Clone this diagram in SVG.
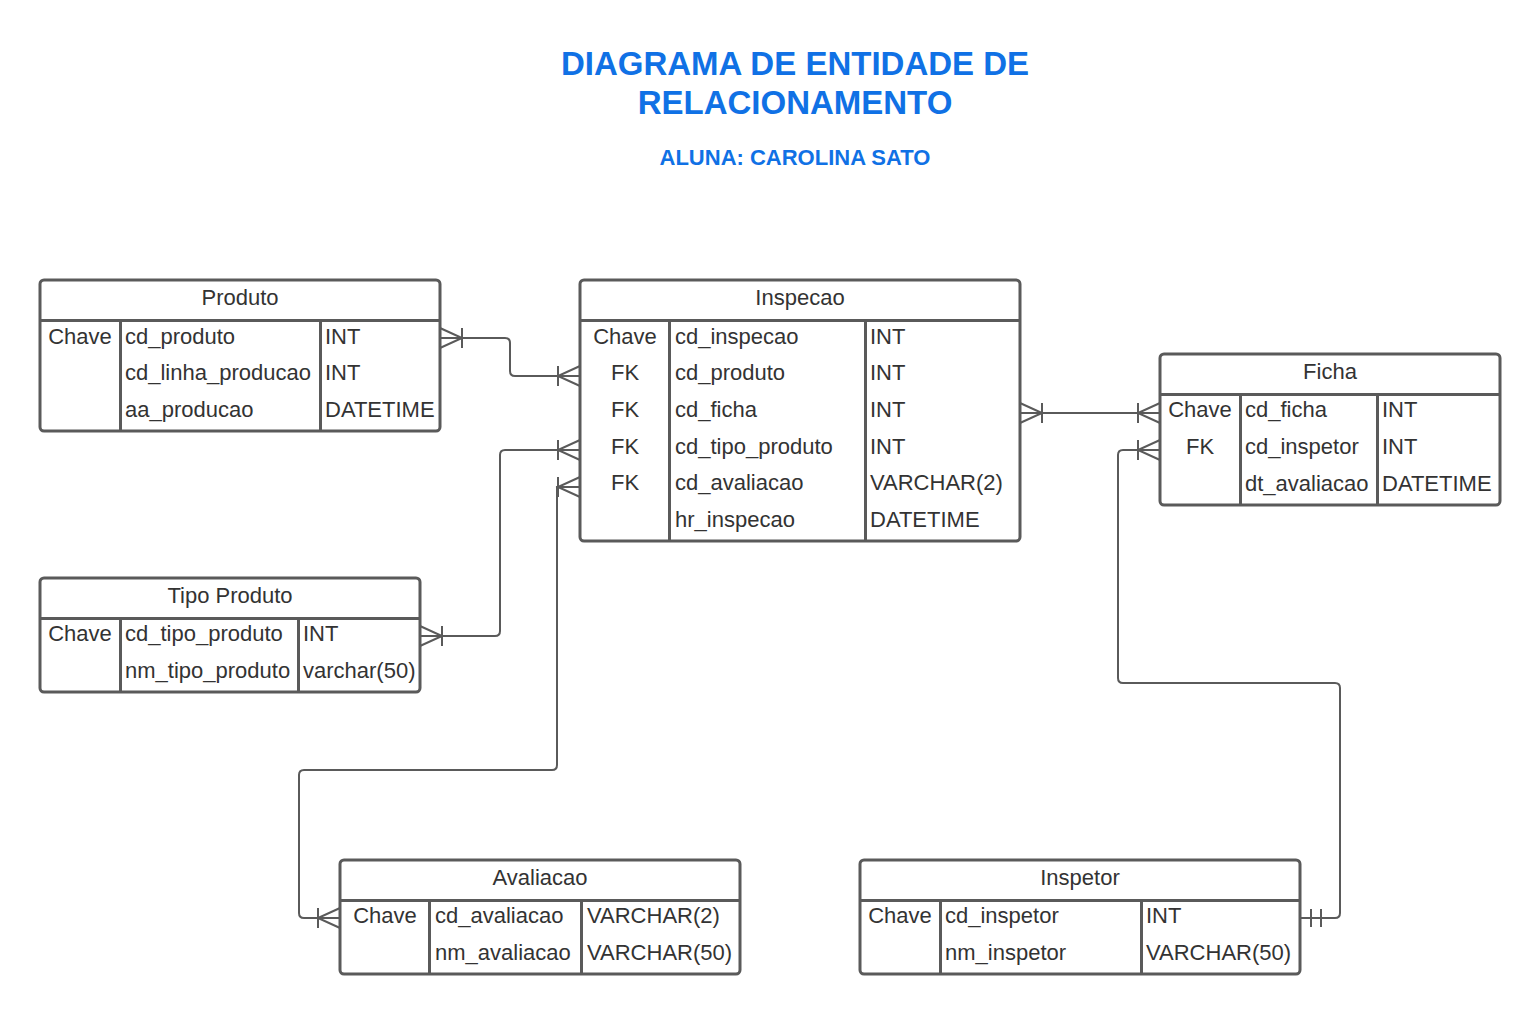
<svg xmlns="http://www.w3.org/2000/svg" width="1540" height="1014" viewBox="0 0 1540 1014">
<style>
.box{fill:#fff;stroke:#5a5a5a;stroke-width:3}
.ln{stroke:#5a5a5a;stroke-width:3;fill:none}
.t{font-family:"Liberation Sans",Arial,sans-serif;font-size:22px;fill:#333}
.c{text-anchor:middle}
.title{font-family:"Liberation Sans",Arial,sans-serif;font-weight:bold;fill:#1071e5;text-anchor:middle}
.con{stroke:#5a5a5a;stroke-width:2;fill:none}
</style>
<rect width="1540" height="1014" fill="#fff"/>
<g id="title">
<text class="title" x="795" y="75" font-size="33">DIAGRAMA DE ENTIDADE DE</text>
<text class="title" x="795" y="114" font-size="33">RELACIONAMENTO</text>
<text class="title" x="795" y="165" font-size="22">ALUNA: CAROLINA SATO</text>
</g>
<g id="produto">
<rect class="box" x="40" y="280" width="400" height="151" rx="4"/>
<path class="ln" d="M40,320.5H440M120.5,320.5V431M320.5,320.5V431"/>
<text class="t c" x="240" y="305">Produto</text>
<text class="t c" x="80" y="343.5">Chave</text>
<text class="t" x="125" y="343.5">cd_produto</text>
<text class="t" x="325" y="343.5">INT</text>
<text class="t" x="125" y="380.3">cd_linha_producao</text>
<text class="t" x="325" y="380.3">INT</text>
<text class="t" x="125" y="417">aa_producao</text>
<text class="t" x="325" y="417">DATETIME</text>
</g>
<g id="inspecao">
<rect class="box" x="580" y="280" width="440" height="261" rx="4"/>
<path class="ln" d="M580,320.5H1020M669.5,320.5V541M865.5,320.5V541"/>
<text class="t c" x="800" y="305">Inspecao</text>
<text class="t c" x="625" y="343.5">Chave</text>
<text class="t" x="675" y="343.5">cd_inspecao</text>
<text class="t" x="870" y="343.5">INT</text>
<text class="t c" x="625" y="380.2">FK</text>
<text class="t" x="675" y="380.2">cd_produto</text>
<text class="t" x="870" y="380.2">INT</text>
<text class="t c" x="625" y="417">FK</text>
<text class="t" x="675" y="417">cd_ficha</text>
<text class="t" x="870" y="417">INT</text>
<text class="t c" x="625" y="453.7">FK</text>
<text class="t" x="675" y="453.7">cd_tipo_produto</text>
<text class="t" x="870" y="453.7">INT</text>
<text class="t c" x="625" y="490.4">FK</text>
<text class="t" x="675" y="490.4">cd_avaliacao</text>
<text class="t" x="870" y="490.4">VARCHAR(2)</text>
<text class="t" x="675" y="527">hr_inspecao</text>
<text class="t" x="870" y="527">DATETIME</text>
</g>
<g id="ficha">
<rect class="box" x="1160" y="354" width="340" height="151" rx="4"/>
<path class="ln" d="M1160,394.5H1500M1240.5,394.5V505M1377.5,394.5V505"/>
<text class="t c" x="1330" y="379">Ficha</text>
<text class="t c" x="1200" y="417.3">Chave</text>
<text class="t" x="1245" y="417.3">cd_ficha</text>
<text class="t" x="1382" y="417.3">INT</text>
<text class="t c" x="1200" y="454">FK</text>
<text class="t" x="1245" y="454">cd_inspetor</text>
<text class="t" x="1382" y="454">INT</text>
<text class="t" x="1245" y="490.7">dt_avaliacao</text>
<text class="t" x="1382" y="490.7">DATETIME</text>
</g>
<g id="tipo_produto">
<rect class="box" x="40" y="578" width="380" height="114" rx="4"/>
<path class="ln" d="M40,618.5H420M120.5,618.5V692M298.5,618.5V692"/>
<text class="t c" x="230" y="603">Tipo Produto</text>
<text class="t c" x="80" y="641.3">Chave</text>
<text class="t" x="125" y="641.3">cd_tipo_produto</text>
<text class="t" x="303" y="641.3">INT</text>
<text class="t" x="125" y="678">nm_tipo_produto</text>
<text class="t" x="303" y="678">varchar(50)</text>
</g>
<g id="avaliacao">
<rect class="box" x="340" y="860" width="400" height="114" rx="4"/>
<path class="ln" d="M340,900.5H740M429.5,900.5V974M581.5,900.5V974"/>
<text class="t c" x="540" y="885">Avaliacao</text>
<text class="t c" x="385" y="923.3">Chave</text>
<text class="t" x="435" y="923.3">cd_avaliacao</text>
<text class="t" x="587" y="923.3">VARCHAR(2)</text>
<text class="t" x="435" y="960">nm_avaliacao</text>
<text class="t" x="587" y="960">VARCHAR(50)</text>
</g>
<g id="inspetor">
<rect class="box" x="860" y="860" width="440" height="114" rx="4"/>
<path class="ln" d="M860,900.5H1300M940.5,900.5V974M1141.5,900.5V974"/>
<text class="t c" x="1080" y="885">Inspetor</text>
<text class="t c" x="900" y="923.3">Chave</text>
<text class="t" x="945" y="923.3">cd_inspetor</text>
<text class="t" x="1146" y="923.3">INT</text>
<text class="t" x="945" y="960">nm_inspetor</text>
<text class="t" x="1146" y="960">VARCHAR(50)</text>
</g>
<g id="connectors">
<path class="con" d="M440,338H505Q510,338 510,343V371Q510,376 515,376H580"/>
<path class="con" d="M440,328L462,338L440,348M462,328V348"/>
<path class="con" d="M580,366L558,376L580,386M558,366V386"/>
<path class="con" d="M420,636H495Q500,636 500,631V455Q500,450 505,450H580"/>
<path class="con" d="M420,626L442,636L420,646M442,626V646"/>
<path class="con" d="M580,440L558,450L580,460M558,440V460"/>
<path class="con" d="M580,487H557V765Q557,770 552,770H304Q299,770 299,775V913Q299,918 304,918H340"/>
<path class="con" d="M580,477L558,487L580,497M558,477V497"/>
<path class="con" d="M340,908L318,918L340,928M318,908V928"/>
<path class="con" d="M1020,413H1160"/>
<path class="con" d="M1020,403L1042,413L1020,423M1042,403V423"/>
<path class="con" d="M1160,403L1138,413L1160,423M1138,403V423"/>
<path class="con" d="M1160,450H1123Q1118,450 1118,455V678Q1118,683 1123,683H1335Q1340,683 1340,688V913Q1340,918 1335,918H1300"/>
<path class="con" d="M1160,440L1138,450L1160,460M1138,440V460"/>
<path class="con" d="M1311,909V927M1321,909V927"/>
</g>
</svg>
